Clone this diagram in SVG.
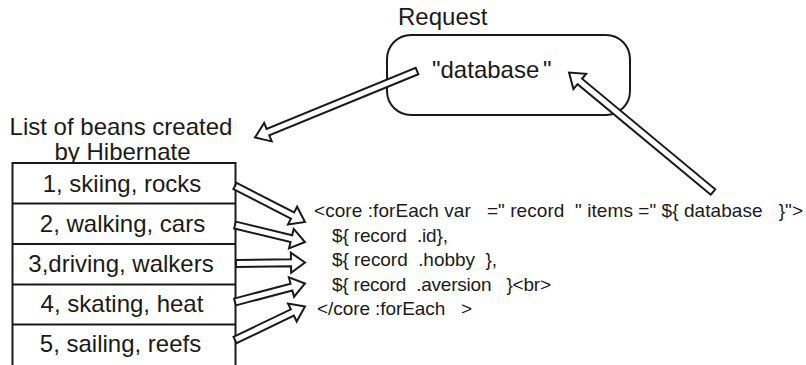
<svg xmlns="http://www.w3.org/2000/svg" width="806" height="365" viewBox="0 0 806 365">
<style>
  text { font-family: "Liberation Sans", Arial, Helvetica, sans-serif; fill: #1a1a1a; }
  .lbl { font-size: 24px; }
  .row { font-size: 24px; text-anchor: middle; }
  .code { font-size: 19px; white-space: pre; }
  .box { fill: #fff; stroke: #1a1a1a; stroke-width: 2; }
  .arrow { fill: #fff; stroke: #1a1a1a; stroke-width: 2; stroke-linejoin: miter; }
</style>
<rect width="806" height="365" fill="#fff"/>

<g id="request">
  <text class="lbl" x="398" y="25">Request</text>
  <rect class="box" x="387" y="35" width="243" height="80" rx="24" ry="24"/>
  <text class="lbl" x="432" y="78">"database<tspan x="543">"</tspan></text>
</g>

<g id="bean-list">
  <text class="lbl" x="121" y="135" text-anchor="middle">List of beans created</text>
  <text class="lbl" x="122.5" y="160" text-anchor="middle">by Hibernate</text>
  <rect class="box" x="12.5" y="163" width="223" height="215"/>
  <g id="row1"><line x1="12.5" y1="203.5" x2="235.5" y2="203.5" stroke="#1a1a1a" stroke-width="2"/><text class="row" x="122" y="192">1, skiing, rocks</text></g>
  <g id="row2"><line x1="12.5" y1="244" x2="235.5" y2="244" stroke="#1a1a1a" stroke-width="2"/><text class="row" x="122.5" y="232">2, walking, cars</text></g>
  <g id="row3"><line x1="12.5" y1="284.5" x2="235.5" y2="284.5" stroke="#1a1a1a" stroke-width="2"/><text class="row" x="121" y="272">3,driving, walkers</text></g>
  <g id="row4"><line x1="12.5" y1="324.5" x2="235.5" y2="324.5" stroke="#1a1a1a" stroke-width="2"/><text class="row" x="122" y="312">4, skating, heat</text></g>
  <g id="row5"><text class="row" x="120.5" y="352">5, sailing, reefs</text></g>
</g>

<g id="jsp-code">
  <text class="code" x="314" y="217" textLength="489" lengthAdjust="spacing">&lt;core :forEach var   =" record  " items =" ${ database   }"&gt;</text>
  <text class="code" x="332" y="241.5" textLength="116" lengthAdjust="spacing">${ record  .id},</text>
  <text class="code" x="332" y="266" textLength="165" lengthAdjust="spacing">${ record  .hobby  },</text>
  <text class="code" x="332" y="290.5" textLength="219" lengthAdjust="spacing">${ record  .aversion   }&lt;br&gt;</text>
  <text class="code" x="317" y="315" textLength="155" lengthAdjust="spacing">&lt;/core :forEach   &gt;</text>
</g>

<g id="connectors">
  <polygon class="arrow" transform="translate(417,71) rotate(157.7)" points="0,-3.5 161.1,-3.5 161.1,-10 175.1,0 161.1,10 161.1,3.5 0,3.5"/>
  <polygon class="arrow" transform="translate(713,192) rotate(-140.3)" points="0,-3.5 173.1,-3.5 173.1,-10 187.1,0 173.1,10 173.1,3.5 0,3.5"/>
  <polygon class="arrow" transform="translate(235,186) rotate(27.2)" points="0,-3.5 64.7,-3.5 64.7,-10 78.7,0 64.7,10 64.7,3.5 0,3.5"/>
  <polygon class="arrow" transform="translate(235,225) rotate(13.65)" points="0,-3.5 58,-3.5 58,-10 72,0 58,10 58,3.5 0,3.5"/>
  <polygon class="arrow" transform="translate(236,263.5) rotate(-0.83)" points="0,-3.5 55,-3.5 55,-10 69,0 55,10 55,3.5 0,3.5"/>
  <polygon class="arrow" transform="translate(235,302) rotate(-14.8)" points="0,-3.5 58.4,-3.5 58.4,-10 72.4,0 58.4,10 58.4,3.5 0,3.5"/>
  <polygon class="arrow" transform="translate(235,340) rotate(-25.6)" points="0,-3.5 63.6,-3.5 63.6,-10 77.6,0 63.6,10 63.6,3.5 0,3.5"/>
</g>
</svg>
